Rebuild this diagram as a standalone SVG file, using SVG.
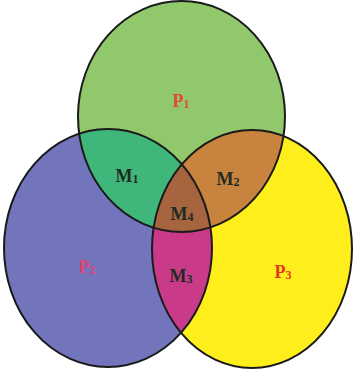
<svg xmlns="http://www.w3.org/2000/svg" width="354" height="370" viewBox="0 0 354 370">
<style>
.edge{fill:none;stroke:#1a1a1a;stroke-width:2}
.lbl{font-family:"Liberation Serif","Times New Roman",serif;font-weight:bold;font-size:18px;text-anchor:middle}
.m{fill:#1f2a22}
.sub{font-size:12px}
</style>
<defs>
<clipPath id="c1"><ellipse cx="181.5" cy="116.5" rx="103.5" ry="115.5"/></clipPath>
<clipPath id="c2"><ellipse cx="108" cy="248" rx="104" ry="119"/></clipPath>
</defs>
<rect width="354" height="370" fill="#ffffff"/>
<g id="P2"><ellipse cx="108" cy="248" rx="104" ry="119" fill="#7274bc"/></g>
<g id="P3"><ellipse cx="252" cy="249" rx="100" ry="119" fill="#fdee1c"/></g>
<g id="P1"><ellipse cx="181.5" cy="116.5" rx="103.5" ry="115.5" fill="#92c86c"/></g>
<g id="M1"><g clip-path="url(#c1)"><ellipse cx="108" cy="248" rx="104" ry="119" fill="#3fb77a"/></g></g>
<g id="M2"><g clip-path="url(#c1)"><ellipse cx="252" cy="249" rx="100" ry="119" fill="#c8843e"/></g></g>
<g id="M3"><g clip-path="url(#c2)"><ellipse cx="252" cy="249" rx="100" ry="119" fill="#c93b89"/></g></g>
<g id="M4"><g clip-path="url(#c1)"><g clip-path="url(#c2)"><ellipse cx="252" cy="249" rx="100" ry="119" fill="#a6643f"/></g></g></g>
<g id="outlines">
<ellipse class="edge" cx="181.5" cy="116.5" rx="103.5" ry="115.5"/>
<ellipse class="edge" cx="108" cy="248" rx="104" ry="119"/>
<ellipse class="edge" cx="252" cy="249" rx="100" ry="119"/>
</g>
<g id="labels">
<text class="lbl" x="181" y="107" fill="#e2483a">P<tspan class="sub" dy="1">1</tspan></text>
<text class="lbl" x="87" y="273" fill="#e0436e">P<tspan class="sub" dy="1">2</tspan></text>
<text class="lbl" x="283" y="278" fill="#e6361f">P<tspan class="sub" dy="1">3</tspan></text>
<text class="lbl m" x="127" y="182">M<tspan class="sub" dy="1">1</tspan></text>
<text class="lbl m" x="228" y="185">M<tspan class="sub" dy="1">2</tspan></text>
<text class="lbl m" x="181" y="282">M<tspan class="sub" dy="1">3</tspan></text>
<text class="lbl m" x="182" y="220">M<tspan class="sub" dy="1">4</tspan></text>
</g>
</svg>
